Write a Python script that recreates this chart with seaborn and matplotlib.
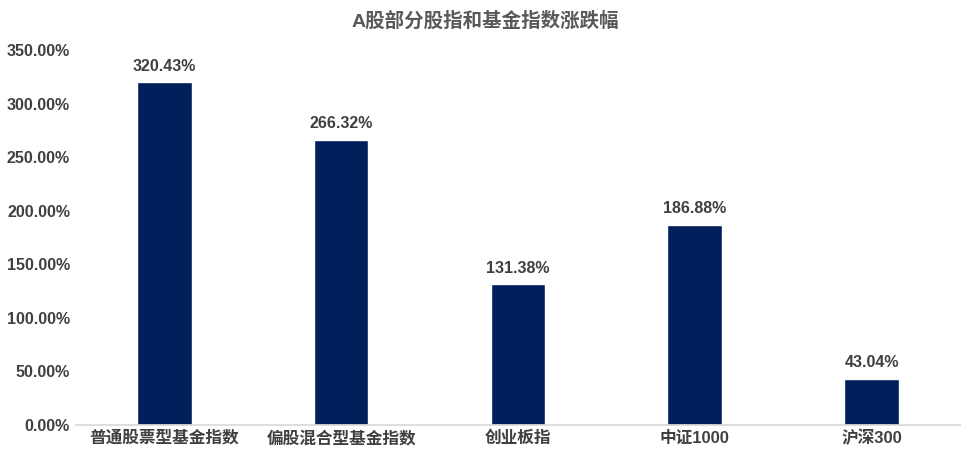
import matplotlib
matplotlib.use("Agg")
import matplotlib.pyplot as plt
import seaborn as sns
import pandas as pd
from matplotlib.ticker import FuncFormatter

categories = ["普通股票型基金指数", "偏股混合型基金指数", "创业板指", "中证1000", "沪深300"]
values = [320.43, 266.32, 131.38, 186.88, 43.04]

sns.set_theme(style="white")
plt.rcParams['font.family'] = ['Liberation Sans', 'Noto Sans CJK SC', 'DejaVu Sans']

df = pd.DataFrame({"name": categories, "value": values})

fig = plt.figure(figsize=(9.7, 4.59), dpi=100)
ax = fig.add_axes([0.078, 0.075, 0.912, 0.815])
sns.barplot(data=df, x="name", y="value", color="#001F5B", width=0.31, ax=ax, saturation=1)

for i, v in enumerate(values):
    ax.text(i, v + 8, f"{v:.2f}%", ha="center", va="bottom", fontsize=11.5,
            fontweight="bold", color="#404040")

ax.set_ylim(0, 350)
ax.set_yticks(range(0, 351, 50))
ax.yaxis.set_major_formatter(FuncFormatter(lambda y, _: f"{y:.2f}%"))
ax.set_xlabel("")
ax.set_ylabel("")
ax.tick_params(axis="y", labelsize=11.5, labelcolor="#404040", length=0, pad=4)
ax.tick_params(axis="x", labelsize=12, labelcolor="#404040", length=0, pad=4)
for lbl in ax.get_xticklabels() + ax.get_yticklabels():
    lbl.set_fontweight("bold")
for s in ["top", "right", "left"]:
    ax.spines[s].set_visible(False)
ax.spines["bottom"].set_color("#D9D9D9")
ax.set_xlim(-0.5, 4.5)

fig.suptitle("A股部分股指和基金指数涨跌幅", x=0.5, y=0.975, fontsize=14,
             fontweight="bold", color="#595959")

fig.savefig("out.png", dpi=100)
